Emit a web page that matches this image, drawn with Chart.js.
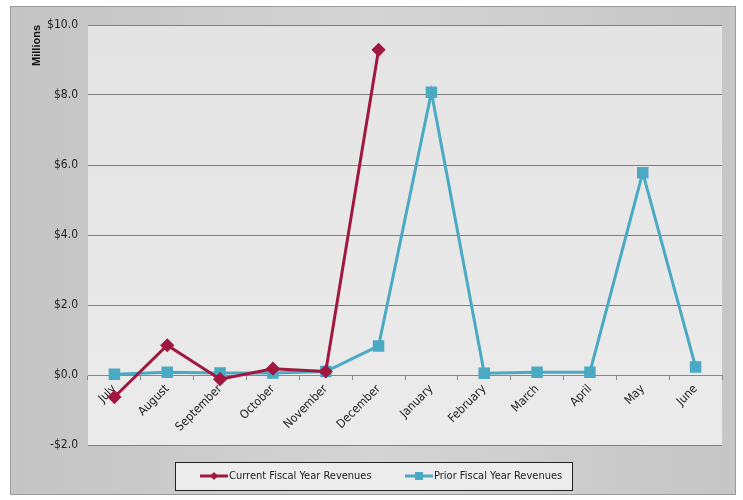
<!DOCTYPE html>
<html>
<head>
<meta charset="utf-8">
<script src="https://cdn.jsdelivr.net/npm/chart.js@4/dist/chart.umd.min.js"></script>
<style>
  html, body { margin: 0; padding: 0; background: #fff; }
  #wrap { width: 743px; height: 500px; }
</style>
</head>
<body>
<div id="wrap"><canvas id="revChart" width="743" height="500"></canvas></div>
<script>
// months of the fiscal year
const months = ['July', 'August', 'September', 'October', 'November', 'December',
  'January', 'February', 'March', 'April', 'May', 'June'];

// revenues in millions
const currentRevenues = [-0.63, 0.85, -0.12, 0.18, 0.1, 9.29, null, null, null, null, null, null];
const priorRevenues = [0.02, 0.08, 0.06, 0.06, 0.1, 0.83, 8.08, 0.05, 0.08, 0.08, 5.78, 0.23];

const yTickLabels = ['-$2.0', '$0.0', '$2.0', '$4.0', '$6.0', '$8.0', '$10.0'];

const FONT = '"Liberation Sans Narrow", "DejaVu Sans Condensed", "Liberation Sans", sans-serif';

// grey frame + plot background + boxed legend, like the excel chart
const framePlugin = {
  id: 'frame',
  beforeDraw(chart) {
    const ctx = chart.ctx;
    const a = chart.chartArea;
    ctx.save();
    let g = ctx.createLinearGradient(10, 0, 736, 0);
    g.addColorStop(0, '#c4c4c4');
    g.addColorStop(0.5, '#d4d4d4');
    g.addColorStop(1, '#c6c6c6');
    ctx.fillStyle = g;
    ctx.fillRect(10, 6, 726, 489);
    ctx.strokeStyle = '#9a9a9a';
    ctx.lineWidth = 1;
    ctx.strokeRect(10.5, 6.5, 725, 488);
    g = ctx.createLinearGradient(0, a.top, 0, a.bottom);
    g.addColorStop(0, '#e4e4e4');
    g.addColorStop(1, '#ebebeb');
    ctx.fillStyle = g;
    ctx.fillRect(a.left, a.top, a.right - a.left, a.bottom - a.top);
    ctx.restore();
  },
  afterDraw(chart) {
    const ctx = chart.ctx;
    ctx.save();
    const bx = 175, by = 462, bw = 397, bh = 28;
    ctx.fillStyle = '#ececec';
    ctx.fillRect(bx, by, bw, bh);
    ctx.strokeStyle = '#222';
    ctx.lineWidth = 1;
    ctx.strokeRect(bx + 0.5, by + 0.5, bw, bh);
    const cy = by + bh / 2;
    const items = [{ x: 200 }, { x: 405 }];
    chart.data.datasets.forEach((ds, i) => {
      const x0 = items[i].x;
      ctx.strokeStyle = ds.borderColor;
      ctx.lineWidth = 3;
      ctx.beginPath();
      ctx.moveTo(x0, cy);
      ctx.lineTo(x0 + 28, cy);
      ctx.stroke();
      ctx.fillStyle = ds.borderColor;
      const mx = x0 + 14;
      if (ds.pointStyle === 'rectRot') {
        ctx.beginPath();
        ctx.moveTo(mx, cy - 4);
        ctx.lineTo(mx + 4, cy);
        ctx.lineTo(mx, cy + 4);
        ctx.lineTo(mx - 4, cy);
        ctx.closePath();
        ctx.fill();
      } else {
        ctx.fillRect(mx - 4, cy - 4, 8, 8);
      }
      ctx.fillStyle = '#222';
      ctx.font = '11px ' + FONT;
      ctx.textBaseline = 'middle';
      ctx.fillText(ds.label, x0 + 29, cy);
    });
    ctx.restore();
  }
};

new Chart(document.getElementById('revChart'), {
  type: 'line',
  data: {
    labels: months,
    datasets: [{
      label: 'Current Fiscal Year Revenues',
      data: currentRevenues,
      borderColor: '#a01840',
      backgroundColor: '#a01840',
      borderWidth: 3,
      pointStyle: 'rectRot',
      pointRadius: 5,
      tension: 0,
      fill: false
    }, {
      label: 'Prior Fiscal Year Revenues',
      data: priorRevenues,
      borderColor: '#4aaac4',
      backgroundColor: '#4aaac4',
      borderWidth: 3,
      pointStyle: 'rect',
      pointRadius: 6,
      tension: 0,
      fill: false
    }]
  },
  options: {
    responsive: false,
    animation: false,
    layout: { padding: { left: 30, right: 21, top: 25, bottom: 55 } },
    plugins: {
      legend: { display: false },
      tooltip: { enabled: false }
    },
    scales: {
      x: {
        position: { y: 0 },
        offset: true,
        grid: { display: true, drawOnChartArea: false, tickLength: 4, color: '#888', offset: true },
        border: { display: true, color: '#888' },
        ticks: {
          minRotation: 45,
          maxRotation: 45,
          autoSkip: false,
          color: '#222',
          padding: 3,
          font: { family: FONT, size: 12 }
        }
      },
      y: {
        min: -2,
        max: 10,
        afterFit(scale) { scale.width = 58; },
        grid: { color: '#7f7f7f', drawTicks: false },
        border: { display: false },
        ticks: {
          stepSize: 2,
          padding: 10,
          color: '#222',
          font: { family: FONT, size: 12 },
          callback: (v, i) => yTickLabels[i]
        },
        title: {
          display: true,
          text: 'Millions',
          align: 'end',
          color: '#111',
          padding: { top: 0, bottom: 0 },
          font: { family: 'Liberation Sans, sans-serif', size: 11, weight: 'bold' }
        }
      }
    }
  },
  plugins: [framePlugin]
});
</script>
</body>
</html>
